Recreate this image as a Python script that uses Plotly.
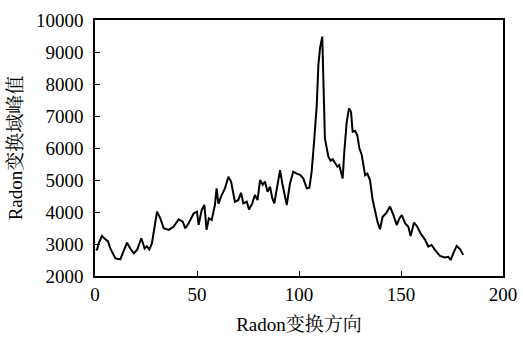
import plotly.graph_objects as go

direction = [0.5, 1.0, 1.8, 3.4, 5.1, 6.4, 7.5, 8.7, 10.0, 12.4, 14.1, 15.7, 17.3, 19.0, 20.6,
             22.7, 24.3, 25.4, 26.6, 27.9, 30.4, 32.0, 33.7, 36.1, 38.5, 41.0, 43.0, 44.3, 45.9,
             48.4, 50.0, 50.8, 52.3, 53.6, 54.7, 55.8, 57.2, 58.8, 59.6, 60.5, 62.1, 63.7, 65.4,
             66.7, 67.8, 68.6, 70.2, 71.6, 72.7, 74.4, 75.5, 77.1, 78.4, 79.7, 80.9, 82.2, 83.3,
             84.6, 85.8, 86.9, 87.9, 89.0, 90.7, 91.8, 92.8, 94.0, 95.6, 97.2, 98.9, 100.5, 102.1,
             103.8, 105.1, 106.2, 107.4, 108.7, 109.5, 110.3, 111.4, 111.9, 112.7, 114.4, 115.5,
             116.5, 117.6, 118.8, 119.7, 120.4, 121.4, 122.2, 123.4, 124.5, 125.5, 126.3, 127.5,
             128.6, 129.6, 130.7, 131.5, 132.4, 133.5, 134.8, 136.1, 137.3, 138.5, 139.7, 141.0,
             142.7, 144.6, 146.3, 147.9, 149.2, 150.4, 152.0, 153.6, 154.7, 156.4, 158.0, 159.6,
             161.8, 163.4, 165.0, 166.7, 169.1, 171.6, 173.2, 174.3, 176.0, 177.3, 178.9, 180.5]
peak = [2850, 2810, 3020, 3250, 3150, 3080, 2860, 2720, 2550, 2520, 2810, 3040, 2860, 2710, 2810,
        3180, 2860, 2930, 2830, 3020, 4010, 3800, 3490, 3440, 3540, 3770, 3700, 3490, 3650,
        3960, 4010, 3600, 4060, 4220, 3440, 3800, 3750, 4220, 4740, 4260, 4530, 4740, 5100,
        4950, 4580, 4320, 4370, 4600, 4270, 4320, 4080, 4270, 4530, 4370, 5000, 4850, 4950,
        4630, 4790, 4430, 4270, 4630, 5310, 4900, 4530, 4220, 4900, 5260, 5200, 5160, 5050,
        4740, 4760, 5260, 6200, 7340, 8590, 9120, 9480, 8180, 6300, 5730, 5600,
        5650, 5520, 5420, 5470, 5260, 5050, 5880, 6820, 7240, 7130, 6510, 6530,
        6400, 5990, 5800, 5470, 5150, 5200, 5000, 4380, 4010, 3690, 3460, 3850,
        3960, 4170, 3900, 3590, 3800, 3900, 3650, 3540, 3250, 3670, 3540, 3330,
        3130, 2920, 2970, 2810, 2630, 2580, 2600, 2500, 2760, 2940, 2840, 2660]

x_ticks = [0, 50, 100, 150, 200]
y_ticks = [2000, 3000, 4000, 5000, 6000, 7000, 8000, 9000, 10000]
y_tick_labels = ["2000", "3000", "4000", "5000", "6000", "7000", "8000", "9000", "10000"]

font_family = "Liberation Serif, Times New Roman, Noto Serif CJK SC, Noto Sans CJK SC, serif"

fig = go.Figure()
fig.add_trace(go.Scatter(x=direction, y=peak, mode="lines",
                         line=dict(color="black", width=2), showlegend=False))

axis_common = dict(showgrid=False, zeroline=False, showline=True, linecolor="black",
                   linewidth=1.5, mirror=True, ticks="inside", ticklen=5, tickwidth=1.2,
                   tickcolor="black", automargin=False,
                   tickfont=dict(family=font_family, size=19, color="black"))

fig.update_xaxes(range=[0, 200], tickvals=x_ticks,
                 title=dict(text="Radon变换方向", font=dict(family=font_family, size=19, color="black"),
                            standoff=14),
                 **axis_common)
fig.update_yaxes(range=[2000, 10000], tickvals=y_ticks, ticktext=y_tick_labels,
                 ticklabelstandoff=6,
                 title=dict(text="Radon变换域峰值", font=dict(family=font_family, size=19, color="black"),
                            standoff=8),
                 **axis_common)

fig.update_layout(width=523, height=337, plot_bgcolor="white", paper_bgcolor="white",
                  margin=dict(l=95, r=20, t=20, b=61))

fig.write_html("out.html", config={"displayModeBar": False},
               post_script="document.body.style.margin='0';document.body.style.overflow='hidden';")
